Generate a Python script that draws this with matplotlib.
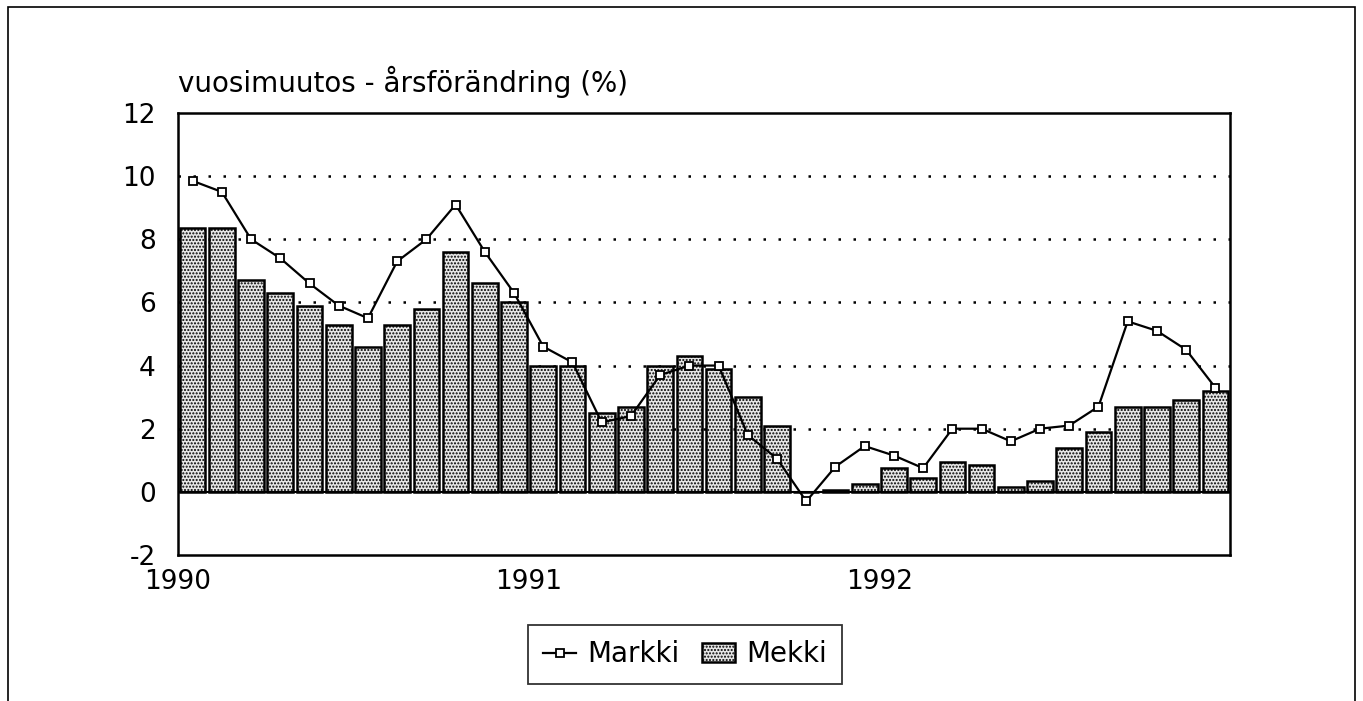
import numpy as np
import matplotlib
matplotlib.use("Agg")
from matplotlib import pyplot as plt
from matplotlib.patches import Rectangle

plt.rcParams['font.family'] = ['DejaVu Sans']
plt.rcParams['axes.unicode_minus'] = False
plt.rcParams['hatch.color'] = '#555555'
plt.rcParams['hatch.linewidth'] = 1.0

# monthly data Jan 1990 - Dec 1992
markki = [9.85, 9.5, 8.0, 7.4, 6.6, 5.9, 5.5, 7.3, 8.0, 9.1, 7.6, 6.3,
          4.6, 4.1, 2.2, 2.4, 3.7, 4.0, 4.0, 1.8, 1.05, -0.3, 0.8, 1.45,
          1.15, 0.75, 2.0, 2.0, 1.6, 2.0, 2.1, 2.7, 5.4, 5.1, 4.5, 3.3]
mekki = [8.35, 8.35, 6.7, 6.3, 5.9, 5.3, 4.6, 5.3, 5.8, 7.6, 6.6, 6.0,
         4.0, 4.0, 2.5, 2.7, 4.0, 4.3, 3.9, 3.0, 2.1, 0.0, 0.05, 0.25,
         0.75, 0.45, 0.95, 0.85, 0.15, 0.35, 1.4, 1.9, 2.7, 2.7, 2.9, 3.2]
year_labels = ["1990", "1991", "1992"]

x = np.arange(len(markki))

fig = plt.figure(figsize=(13.63, 7.01), dpi=100)
fig.patches.append(Rectangle((0.006, -0.05), 0.988, 1.04, transform=fig.transFigure,
                             fill=False, edgecolor='black', linewidth=1.2))
ax = fig.add_axes([0.1306, 0.2083, 0.7718, 0.6305])

ax.bar(x, mekki, width=0.88, facecolor='#e6e6e6', edgecolor='black',
       linewidth=1.8, hatch='.....', label='Mekki', zorder=2)
ax.plot(x, markki, color='black', linewidth=1.6, marker='s', markersize=5.5,
        markerfacecolor='white', markeredgecolor='black', markeredgewidth=1.3,
        label='Markki', zorder=3)

for g in [2, 4, 6, 8, 10]:
    ax.axhline(g, color='black', linewidth=1.8, linestyle=(0, (1, 5)), zorder=1)
ax.axhline(0, color='black', linewidth=1.5, zorder=4)

ax.set_xlim(-0.5, len(markki) - 0.5)
ax.set_ylim(-2, 12)
ax.set_yticks(range(-2, 13, 2))
ax.set_xticks([-0.5, 11.5, 23.5])
ax.set_xticklabels(year_labels)
ax.tick_params(axis='both', length=0, labelsize=19)
ax.tick_params(axis='y', pad=16)
ax.tick_params(axis='x', pad=10)
for s in ax.spines.values():
    s.set_linewidth(1.8)

fig.text(0.1306, 0.883, "vuosimuutos - årsförändring (%)", fontsize=20,
         ha='left', va='center')

leg = ax.legend(loc='center', bbox_to_anchor=(0.482, -0.225), ncol=2, fontsize=20,
                frameon=True, fancybox=False, edgecolor='black', handlelength=1.2,
                handletextpad=0.4, columnspacing=0.8, borderpad=0.55)
leg.get_frame().set_linewidth(1.3)

fig.savefig("out.png", dpi=100)
